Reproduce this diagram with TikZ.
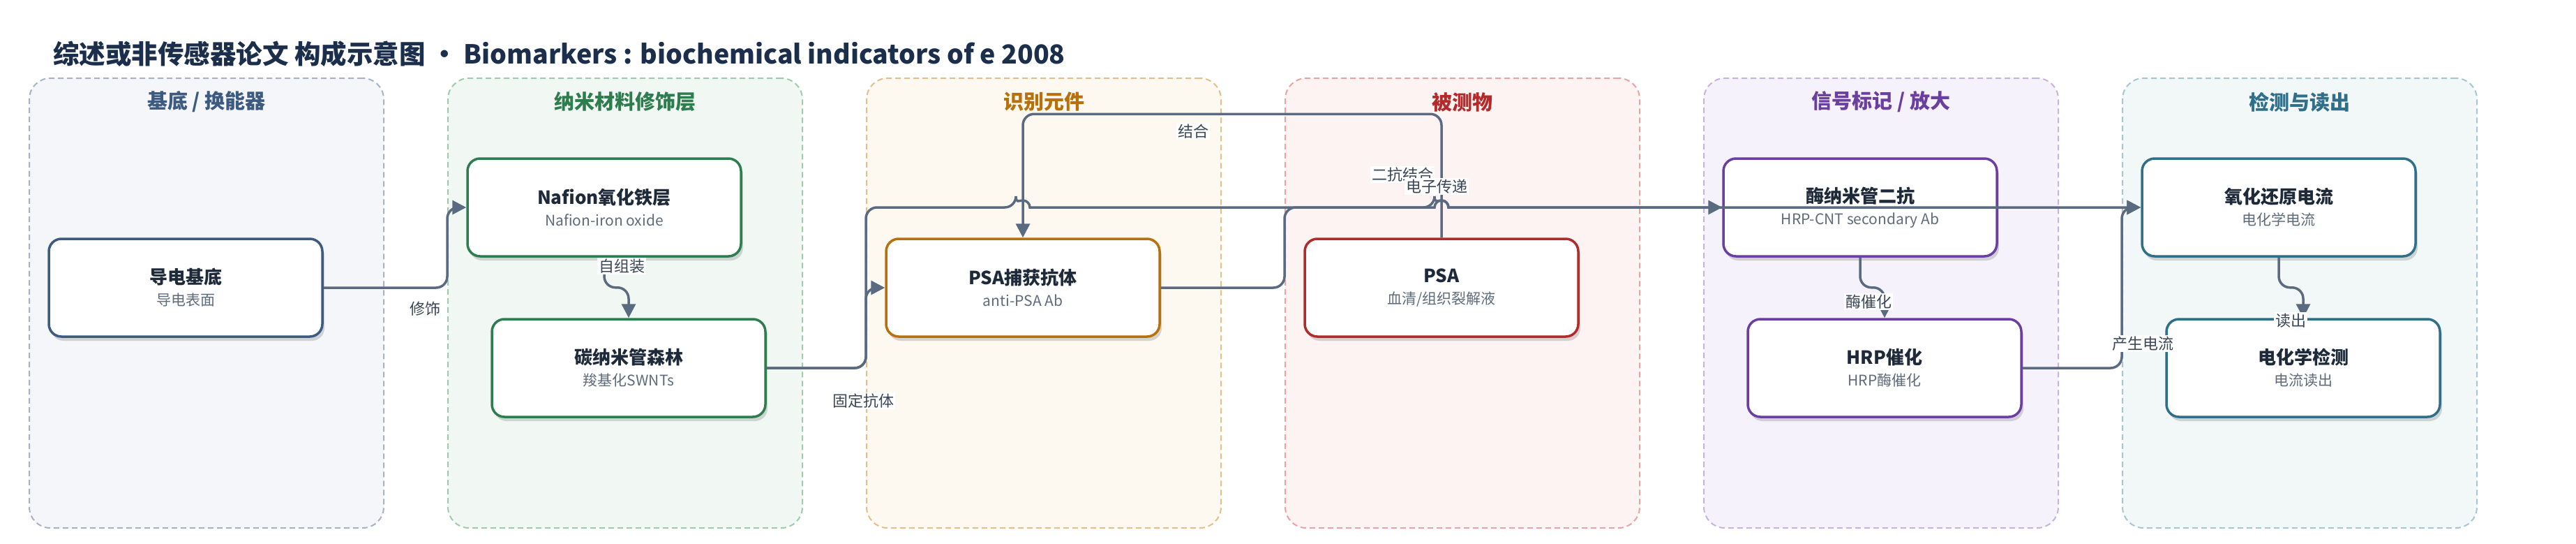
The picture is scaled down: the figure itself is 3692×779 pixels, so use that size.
\documentclass[tikz,border=0pt]{standalone}
\usepackage{fontspec}
\setmainfont{Noto Sans CJK SC}
\usetikzlibrary{arrows.meta,calc,shadows}

\definecolor{titlec}{HTML}{1B2E4B}
\definecolor{linkc}{HTML}{5A6A80}
\definecolor{labelc}{HTML}{3A4656}
\definecolor{subc}{HTML}{5F6B7A}
\definecolor{cardc}{HTML}{1E2A3A}
% lane colours: text / fill / dashes
\definecolor{baseC}{HTML}{3D5A80}\definecolor{baseF}{HTML}{F5F6FA}\definecolor{baseD}{HTML}{A7B3C5}
\definecolor{nanoC}{HTML}{2E7D4F}\definecolor{nanoF}{HTML}{F1F8F3}\definecolor{nanoD}{HTML}{9ECBAD}
\definecolor{recC}{HTML}{B8700A}\definecolor{recF}{HTML}{FDF8F0}\definecolor{recD}{HTML}{E3C08A}
\definecolor{anaC}{HTML}{B22A2A}\definecolor{anaF}{HTML}{FDF3F3}\definecolor{anaD}{HTML}{E8A3A3}
\definecolor{sigC}{HTML}{6B3FA0}\definecolor{sigF}{HTML}{F6F2FB}\definecolor{sigD}{HTML}{C7B2E0}
\definecolor{detC}{HTML}{2F6F8A}\definecolor{detF}{HTML}{F2F7F8}\definecolor{detD}{HTML}{A6C6D1}

\newcommand{\cardtext}[2]{{\bfseries\color{cardc}\fontsize{26}{30}\selectfont #1}\\{\color{subc}#2}}

\begin{document}
\begin{tikzpicture}[x=1pt,y=-1pt,
    lane/.style 2 args={draw=#2, fill=#1, line width=2pt, dash pattern=on 8pt off 5pt,
      rounded corners=30pt, minimum width=508pt, minimum height=644pt, inner sep=0pt},
    lanetitle/.style={text=#1, font=\bfseries\fontsize{29}{32}\selectfont},
    card/.style={draw=#1, fill=white, line width=3.5pt, rounded corners=18pt,
      minimum width=392pt, minimum height=140pt, align=center, font=\fontsize{21}{31}\selectfont,
      drop shadow={shadow xshift=3pt, shadow yshift=-6pt, opacity=0.15, fill=black}},
    link/.style={draw=linkc, line width=3.5pt, rounded corners=16pt, -{Triangle[length=20pt,width=20pt]}},
    elabel/.style={fill=white, text=labelc, inner sep=2pt, font=\fontsize{22}{24}\selectfont},
  ]
  \useasboundingbox (0,0) rectangle (3692,779);

  \node[anchor=west, inner sep=0pt, text=titlec, font=\bfseries\fontsize{37.5}{42}\selectfont] (title) at (76,77)
    {综述或非传感器论文 构成示意图 • Biomarkers : biochemical indicators of e 2008};

  % lanes
  \node[lane={baseF}{baseD}] (l1) at (296,434) {};
  \node[lane={nanoF}{nanoD}] (l2) at (896,434) {};
  \node[lane={recF}{recD}] (l3) at (1496,434) {};
  \node[lane={anaF}{anaD}] (l4) at (2096,434) {};
  \node[lane={sigF}{sigD}] (l5) at (2696,434) {};
  \node[lane={detF}{detD}] (l6) at (3296,434) {};
  \node[lanetitle=baseC] (t1) at (296,146) {基底 / 换能器};
  \node[lanetitle=nanoC] (t2) at (896,146) {纳米材料修饰层};
  \node[lanetitle=recC] (t3) at (1496,146) {识别元件};
  \node[lanetitle=anaC] (t4) at (2096,146) {被测物};
  \node[lanetitle=sigC] (t5) at (2696,146) {信号标记 / 放大};
  \node[lanetitle=detC] (t6) at (3296,146) {检测与读出};

  % cards
  \node[card=baseC] (base) at (266,412) {\cardtext{导电基底}{导电表面}};
  \node[card=nanoC] (nafion) at (866,297) {\cardtext{Nafion氧化铁层}{Nafion-iron oxide}};
  \node[card=nanoC] (cnt) at (901,527) {\cardtext{碳纳米管森林}{羧基化SWNTs}};
  \node[card=recC] (capture) at (1466,412) {\cardtext{PSA捕获抗体}{anti-PSA Ab}};
  \node[card=anaC] (psa) at (2066,412) {\cardtext{PSA}{血清/组织裂解液}};
  \node[card=sigC] (hrpcnt) at (2666,297) {\cardtext{酶纳米管二抗}{HRP-CNT secondary Ab}};
  \node[card=sigC] (hrpcat) at (2701,527) {\cardtext{HRP催化}{HRP酶催化}};
  \node[card=detC] (redox) at (3266,297) {\cardtext{氧化还原电流}{电化学电流}};
  \node[card=detC] (echem) at (3301,527) {\cardtext{电化学检测}{电流读出}};

  % connectors
  \draw[link] (base.east) -- (base.east -| l2.west) |- (nafion.west);
  \draw[link] (nafion.south) -- ++(0,43) -| (cnt.north);
  \draw[link] (cnt.east) -- (cnt.east -| l3.west) |- (capture.west);
  \draw[link] (psa.north) -- ++(0,-177) -| (capture.north);
  \draw[link] (capture.east) -- (capture.east -| l4.west) -- (l4.west |- hrpcnt.west)
    -- ($(psa.north |- hrpcnt.west)+(-10,0)$) [sharp corners] arc[start angle=180, end angle=0, radius=10pt]
    -- (hrpcnt.west);
  \draw[link] (cnt.east) -- (cnt.east -| l3.west) -- (l3.west |- redox.west)
    -- ($(capture.north |- redox.west)+(-10,0)$) [sharp corners] arc[start angle=180, end angle=0, radius=10pt]
    -- ($(psa.north |- redox.west)+(-10,0)$) arc[start angle=180, end angle=0, radius=10pt]
    -- (redox.west);
  \draw[link] (hrpcnt.south) -- ++(0,43) -| (hrpcat.north);
  \draw[link] (hrpcat.east) -- (hrpcat.east -| l6.west) |- (redox.west);
  \draw[link] (redox.south) -- ++(0,43) -| (echem.north);

  % connector labels
  \node[elabel] (lb1) at (609,442) {修饰};
  \node[elabel] (lb2) at (891,381) {自组装};
  \node[elabel] (lb3) at (1237,574) {固定抗体};
  \node[elabel] (lb4) at (1710,188) {结合};
  \node[elabel] (lb5) at (2010,250) {二抗结合};
  \node[elabel] (lb6) at (2059,267) {电子传递};
  \node[elabel] (lb7) at (2678,432) {酶催化};
  \node[elabel] (lb8) at (3071,492) {产生电流};
  \node[elabel] (lb9) at (3283,459) {读出};
\end{tikzpicture}
\end{document}
